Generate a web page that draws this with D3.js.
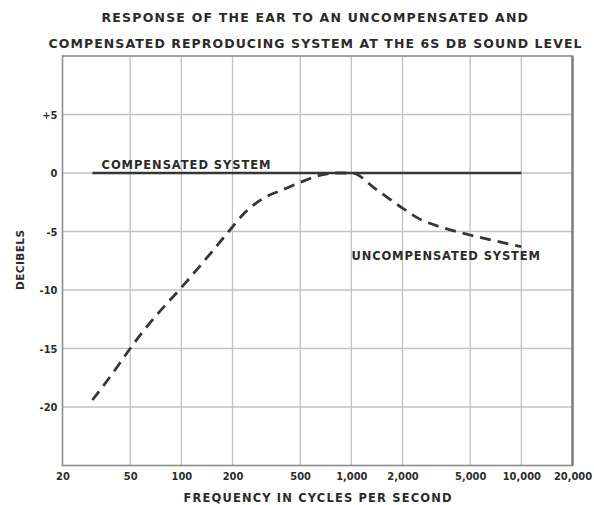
<!DOCTYPE html>
<html>
<head>
<meta charset="utf-8">
<script src="https://cdn.jsdelivr.net/npm/d3@7"></script>
<style>
  html, body { margin: 0; padding: 0; background: #fff; }
  svg { display: block; }
  text { fill: #2b2b2b; }
</style>
</head>
<body>
<svg id="chart" width="594" height="505"></svg>
<script>
// Frequency ticks (cycles per second) and decibel ticks
const freqTicks = [20, 50, 100, 200, 500, 1000, 2000, 5000, 10000, 20000];
const dbTicks = [5, 0, -5, -10, -15, -20];
const dbTickLabels = ["+5", "0", "-5", "-10", "-15", "-20"];

// Compensated system: flat response
const compFreq = [30, 10000];
const compDb = [0, 0];

// Uncompensated system response
const uncompFreq = [30, 40, 50, 70, 100, 150, 185, 240, 300, 400, 500, 650, 800, 1000, 1400, 2000, 2500, 3500, 5000, 7000, 10000];
const uncompDb = [-19.4, -17.0, -15.0, -12.3, -9.8, -6.8, -5.2, -3.3, -2.2, -1.4, -0.8, -0.2, 0, 0, -1.4, -3.0, -3.9, -4.7, -5.3, -5.8, -6.3];

const svg = d3.select("#chart");

const x = d3.scaleLog().domain([20, 20000]).range([62.5, 572.5]);
const y = d3.scaleLinear().domain([-25, 10]).range([465.5, 56]);

const condensed = "'DejaVu Sans Condensed', 'Liberation Sans Narrow', 'DejaVu Sans', sans-serif";
const heavy = "'DejaVu Sans', 'Liberation Sans', sans-serif";

// Title
const title = [
  {t: "RESPONSE OF THE EAR TO AN UNCOMPENSATED AND", x0: 101.5, x1: 528, yb: 22},
  {t: "COMPENSATED REPRODUCING SYSTEM AT THE 6S DB SOUND LEVEL", x0: 48.5, x1: 581.5, yb: 48}
];
svg.selectAll("text.title").data(title).join("text")
  .attr("class", "title")
  .attr("x", d => d.x0)
  .attr("y", d => d.yb)
  .attr("textLength", d => d.x1 - d.x0)
  .attr("lengthAdjust", "spacing")
  .style("font-family", heavy)
  .style("font-weight", "bold")
  .style("font-size", "12.5px")
  .text(d => d.t);

// Grid lines
const grid = svg.append("g");
grid.selectAll("line.v").data(freqTicks.slice(1, -1)).join("line")
  .attr("x1", d => x(d)).attr("x2", d => x(d))
  .attr("y1", y(10)).attr("y2", y(-25))
  .attr("stroke", "#c2c2c2").attr("stroke-width", 1.3);
grid.selectAll("line.h").data(dbTicks).join("line")
  .attr("x1", x(20)).attr("x2", x(20000))
  .attr("y1", d => y(d)).attr("y2", d => y(d))
  .attr("stroke", "#c2c2c2").attr("stroke-width", 1.3);

// Frame
svg.append("rect")
  .attr("x", x(20)).attr("y", y(10))
  .attr("width", x(20000) - x(20)).attr("height", y(-25) - y(10))
  .attr("fill", "none").attr("stroke", "#8c8c8c").attr("stroke-width", 1.6);
svg.append("line")
  .attr("x1", x(20000)).attr("x2", x(20000))
  .attr("y1", y(10)).attr("y2", y(-25))
  .attr("stroke", "#777").attr("stroke-width", 2.2);

// X axis labels
const xAxis = d3.axisBottom(x)
  .tickValues(freqTicks)
  .tickFormat(d3.format(","))
  .tickSize(0)
  .tickPadding(0);
const gx = svg.append("g").attr("transform", `translate(0, ${y(-25)})`).call(xAxis);
gx.select(".domain").remove();
gx.selectAll("text")
  .attr("y", 14.5).attr("dy", 0)
  .style("font-family", condensed)
  .style("font-weight", "bold")
  .style("font-size", "11px")
  .style("fill", "#2b2b2b");

// Y axis labels
const yAxis = d3.axisLeft(y)
  .tickValues(dbTicks)
  .tickFormat((d, i) => dbTickLabels[i])
  .tickSize(0)
  .tickPadding(5);
const gy = svg.append("g").attr("transform", `translate(${x(20)}, 0)`).call(yAxis);
gy.select(".domain").remove();
gy.selectAll("text")
  .style("font-family", condensed)
  .style("font-weight", "bold")
  .style("font-size", "11px")
  .style("fill", "#2b2b2b");

// Axis titles
svg.append("text")
  .attr("x", 183.5).attr("y", 502)
  .attr("textLength", 268).attr("lengthAdjust", "spacing")
  .style("font-family", heavy)
  .style("font-weight", "bold")
  .style("font-size", "11.5px")
  .text("FREQUENCY IN CYCLES PER SECOND");
svg.append("text")
  .attr("transform", "translate(23.5, 290) rotate(-90)")
  .attr("textLength", 60).attr("lengthAdjust", "spacing")
  .style("font-family", heavy)
  .style("font-weight", "bold")
  .style("font-size", "10.5px")
  .text("DECIBELS");

// Response curves
const line = d3.line()
  .x(d => x(d[0]))
  .y(d => y(d[1]))
  .curve(d3.curveMonotoneX);

svg.append("path")
  .datum(compFreq.map((f, i) => [f, compDb[i]]))
  .attr("d", line)
  .attr("fill", "none")
  .attr("stroke", "#363636")
  .attr("stroke-width", 2.6);

svg.append("path")
  .datum(uncompFreq.map((f, i) => [f, uncompDb[i]]))
  .attr("d", line)
  .attr("fill", "none")
  .attr("stroke", "#363636")
  .attr("stroke-width", 2.8)
  .attr("stroke-dasharray", "11,7");

// Curve labels
svg.append("text")
  .attr("x", 101.5).attr("y", 169)
  .attr("textLength", 169).attr("lengthAdjust", "spacing")
  .style("font-family", heavy)
  .style("font-weight", "600")
  .style("font-size", "11.5px")
  .text("COMPENSATED SYSTEM");
svg.append("text")
  .attr("x", 351.5).attr("y", 260)
  .attr("textLength", 188.5).attr("lengthAdjust", "spacing")
  .style("font-family", heavy)
  .style("font-weight", "600")
  .style("font-size", "11.5px")
  .text("UNCOMPENSATED SYSTEM");
</script>
</body>
</html>
